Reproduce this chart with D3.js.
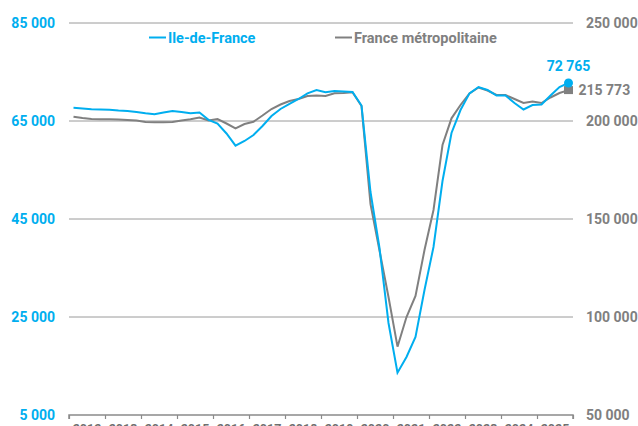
<!DOCTYPE html>
<meta charset="utf-8">
<style>
body { margin: 0; background: #fff; }
text { font-family: Roboto, "Noto Sans", sans-serif; font-weight: 700; }
</style>
<body>
<script src="https://d3js.org/d3.v7.min.js"></script>
<script>

// quarterly series, 2012 Q1 .. 2025 Q4
var startYear = 2012;
var years = d3.range(2012, 2026);

var idf = [67700, 67550, 67390, 67350, 67290, 67140, 67040, 66840, 66570, 66370,
           66730, 67040, 66840, 66570, 66730, 65240, 64490, 62450, 59960, 60920,
           62140, 63980, 66020, 67450, 68470, 69490, 70650, 71330, 70860, 71120,
           71020, 70920, 68160, 50510, 39080, 23780, 13630, 16840, 20920, 30510,
           39290, 52750, 62550, 67240, 70650, 71940, 71330, 70200, 70200, 68670,
           67350, 68260, 68370, 70200, 71940, 72765];

var metro = [202190, 201530, 201020, 200860, 200860, 200760, 200510, 200250, 199490, 199330,
             199330, 199490, 200250, 200860, 201780, 200250, 201020, 198720, 196270, 198470,
             199640, 202800, 206120, 208420, 210200, 211220, 212750, 213010, 212750, 214130,
             214280, 214640, 207650, 157650, 133930, 110200, 84850, 100000, 110710, 134180,
             154590, 187750, 201370, 208160, 214030, 217090, 215560, 213260, 213260, 211220,
             209180, 209950, 209180, 212000, 214280, 215773];

var leftTicks = [5000, 25000, 45000, 65000, 85000];
var rightTicks = [50000, 100000, 150000, 200000, 250000];

var blue = "#00aeef", grey = "#808080";

var W = 638, H = 426;
var x0 = 69, x1 = 573, yTop = 23, yBot = 415;

var svg = d3.select("body").append("svg")
    .attr("width", W).attr("height", H);

var x = d3.scaleLinear().domain([2012, 2026]).range([x0, x1]);
var yL = d3.scaleLinear().domain([5000, 85000]).range([yBot, yTop]);
var yR = d3.scaleLinear().domain([50000, 250000]).range([yBot, yTop]);

var fmt = function (v) { return d3.format(",")(v).replace(/,/g, " "); };

// grid lines
svg.selectAll(".grid")
    .data(leftTicks.slice(1))
    .enter().append("line")
    .attr("x1", x0).attr("x2", x1)
    .attr("y1", function (d) { return yL(d); })
    .attr("y2", function (d) { return yL(d); })
    .attr("stroke", "#9a9a9a").attr("stroke-width", 1);

// left axis labels
svg.selectAll(".lt")
    .data(leftTicks)
    .enter().append("text")
    .attr("x", 55).attr("y", function (d) { return yL(d); })
    .attr("dy", "0.36em")
    .attr("text-anchor", "end")
    .attr("font-size", 14)
    .attr("fill", blue)
    .text(fmt);

// right axis labels
svg.selectAll(".rt")
    .data(rightTicks)
    .enter().append("text")
    .attr("x", 586).attr("y", function (d) { return yR(d); })
    .attr("dy", "0.36em")
    .attr("font-size", 14)
    .attr("fill", grey)
    .text(fmt);

// x axis
var xAxis = d3.axisBottom(x)
    .tickValues(d3.range(2012, 2027))
    .tickSize(4)
    .tickFormat("");
var gx = svg.append("g")
    .attr("transform", "translate(0," + yBot + ")")
    .call(xAxis);
gx.select(".domain").attr("stroke", "#8a8a8a").attr("stroke-width", 1.5)
    .attr("d", "M" + x0 + ",4V0H" + x1 + "V4");
gx.selectAll(".tick line").attr("stroke", "#8a8a8a").attr("stroke-width", 1.2);

svg.selectAll(".yr")
    .data(years)
    .enter().append("text")
    .attr("x", function (d) { return x(d + 0.5); })
    .attr("y", 433)
    .attr("text-anchor", "middle")
    .attr("font-size", 12.5)
    .attr("fill", "#6f6f6f")
    .text(function (d) { return d; });

// lines
var xq = function (d, i) { return x(startYear + (i + 0.5) / 4); };

svg.append("path")
    .datum(metro)
    .attr("fill", "none")
    .attr("stroke", grey)
    .attr("stroke-width", 2)
    .attr("d", d3.line().x(xq).y(function (d) { return yR(d); }));

svg.append("path")
    .datum(idf)
    .attr("fill", "none")
    .attr("stroke", blue)
    .attr("stroke-width", 2)
    .attr("d", d3.line().x(xq).y(function (d) { return yL(d); }));

// end markers
var n = idf.length - 1;
var lx = xq(null, n);
svg.append("rect")
    .attr("x", lx - 4.5).attr("y", yR(metro[n]) - 4)
    .attr("width", 9).attr("height", 8)
    .attr("fill", grey);
svg.append("circle")
    .attr("cx", lx).attr("cy", yL(idf[n]))
    .attr("r", 4.5)
    .attr("fill", blue);

svg.append("text")
    .attr("x", lx).attr("y", yL(idf[n]) - 17)
    .attr("dy", "0.36em")
    .attr("text-anchor", "middle")
    .attr("font-size", 14)
    .attr("fill", blue)
    .text(fmt(idf[n]));
svg.append("text")
    .attr("x", lx + 10).attr("y", yR(metro[n]))
    .attr("dy", "0.36em")
    .attr("font-size", 14)
    .attr("fill", grey)
    .text(fmt(metro[n]));

// legend
var legend = [
    {name: "Ile-de-France", color: blue, x: 149},
    {name: "France métropolitaine", color: grey, x: 335}
];
var lg = svg.selectAll(".lg")
    .data(legend)
    .enter().append("g")
    .attr("transform", function (d) { return "translate(" + d.x + ",37.5)"; });
lg.append("line")
    .attr("x1", 0).attr("x2", 17)
    .attr("stroke", function (d) { return d.color; })
    .attr("stroke-width", 2);
lg.append("text")
    .attr("x", 19).attr("dy", "0.36em")
    .attr("font-size", 14.5)
    .attr("fill", function (d) { return d.color; })
    .text(function (d) { return d.name; });

</script>
</body>
